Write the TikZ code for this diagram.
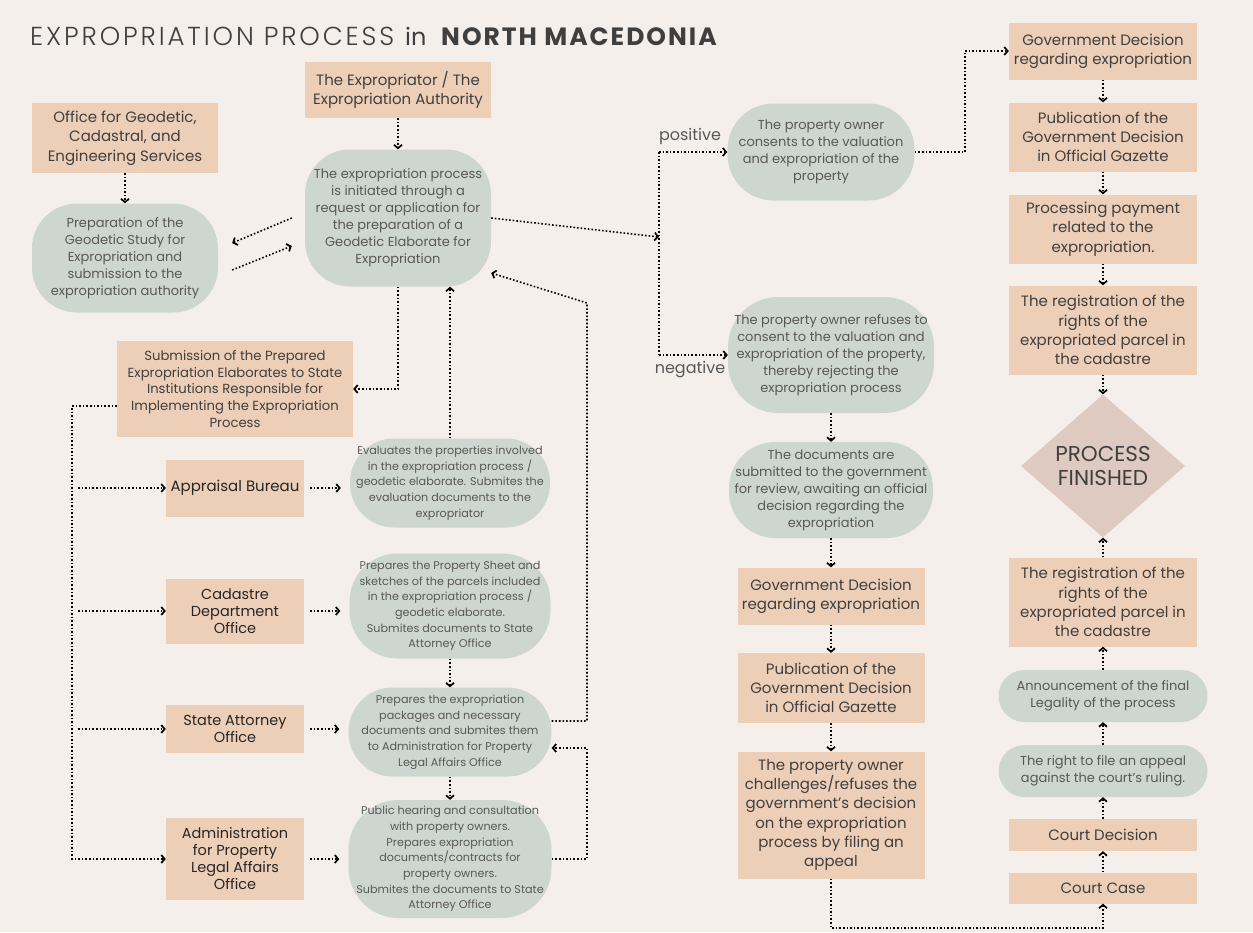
\documentclass[tikz,border=0pt]{standalone}
\usepackage{fontspec}
\setmainfont{Poppins}
\newfontfamily\lightfont{Poppins Light}[LetterSpace=11]
\newfontfamily\headfont{Poppins}[LetterSpace=8]
\usetikzlibrary{arrows.meta,shapes.geometric,calc}

\definecolor{bg}{HTML}{F4EFEA}
\definecolor{peach}{HTML}{EDCFB8}
\definecolor{sage}{HTML}{CDD7CF}
\definecolor{rose}{HTML}{DECAC1}
\definecolor{ink}{HTML}{3F3F3F}
\definecolor{softink}{HTML}{585858}
\definecolor{darkink}{HTML}{262626}

\tikzset{
  box/.style={rectangle, fill=peach, text=ink, align=center, inner sep=0pt,
    font=\fontsize{15}{19.3}\selectfont},
  office/.style={box, text=darkink, font=\fontsize{14.5}{17}\selectfont},
  pill/.style={rectangle, fill=sage, text=softink, align=center, inner sep=0pt,
    rounded corners=#1, font=\fontsize{13}{17}\selectfont},
  note/.style={pill=#1, font=\fontsize{11.2}{15.7}\selectfont},
  endbox/.style={diamond, fill=rose, text=ink, align=center, inner sep=0pt,
    font=\fontsize{21.5}{24}\selectfont},
  lbl/.style={text=softink, inner sep=0pt, font=\fontsize{16}{18}\selectfont},
  dots/.style={draw=black, line width=1.6pt, dash pattern=on 1.6pt off 2pt},
  flow/.style={dots, -{Straight Barb[length=3.4pt,width=8pt,line width=1.7pt]}}
}

\begin{document}
\begin{tikzpicture}[x=1pt,y=-1pt]
\useasboundingbox (0,0) rectangle (1253,932);
\fill[bg] (0,0) rectangle (1253,932);

% title
\node[anchor=base west, inner sep=0pt, text=ink, font=\lightfont\fontsize{26}{30}\selectfont] (t1) at (30,45) {EXPROPRIATION PROCESS};
\node[anchor=base west, inner sep=0pt, text=ink, font=\fontsize{24}{28}\selectfont] (t2) at (405,45) {in};
\node[anchor=base west, inner sep=0pt, text=ink, font=\headfont\bfseries\fontsize{25}{30}\selectfont] (t3) at (441,45) {NORTH MACEDONIA};

% left part: preparation of the elaborate
\node[box, minimum width=186pt, minimum height=56pt] (exp) at (398,90) {The Expropriator / The\\Expropriation Authority};
\node[box, minimum width=186pt, minimum height=70pt] (off) at (125,138) {Office for Geodetic,\\Cadastral, and\\Engineering Services};
\node[pill=45pt, minimum width=186pt, minimum height=109pt] (g1) at (125,258) {Preparation of the\\Geodetic Study for\\Expropriation and\\submission to the\\expropriation authority};
\node[pill=45pt, minimum width=186pt, minimum height=137pt] (g2) at (398,218) {The expropriation process\\is initiated through a\\request or application for\\the preparation of a\\Geodetic Elaborate for\\Expropriation};
\node[box, minimum width=236pt, minimum height=96pt, font=\fontsize{13.2}{16.7}\selectfont] (sub) at (235,389) {Submission of the Prepared\\Expropriation Elaborates to State\\Institutions Responsible for\\Implementing the Expropriation\\Process};

% state institutions
\node[office, minimum width=138pt, minimum height=57pt, font=\fontsize{15}{18}\selectfont] (app) at (235,488) {Appraisal Bureau};
\node[office, minimum width=138pt, minimum height=65pt] (cad) at (235,611) {Cadastre\\Department\\Office};
\node[office, minimum width=138pt, minimum height=48pt] (sta) at (235,729) {State Attorney\\Office};
\node[office, minimum width=138pt, minimum height=82pt] (adm) at (235,859) {Administration\\for Property\\Legal Affairs\\Office};

\node[note=44pt, minimum width=200pt, minimum height=89pt] (g3) at (450,483) {Evaluates the properties involved\\in the expropriation process /\\geodetic elaborate. Submites the\\evaluation documents to the\\expropriator};
\node[note=48pt, minimum width=201pt, minimum height=105pt] (g4) at (450,606) {Prepares the Property Sheet and\\sketches of the parcels included\\in the expropriation process /\\geodetic elaborate.\\Submites documents to State\\Attorney Office};
\node[note=44pt, minimum width=203pt, minimum height=89pt] (g5) at (450,732) {Prepares the expropriation\\packages and necessary\\documents and submites them\\to Administration for Property\\Legal Affairs Office};
\node[note=50pt, minimum width=203pt, minimum height=118pt] (g6) at (450,859) {Public hearing and consultation\\with property owners.\\Prepares expropriation\\documents/contracts for\\property owners.\\Submites the documents to State\\Attorney Office};

% owner's answer
\node[pill=46pt, minimum width=187pt, minimum height=97pt] (g7) at (821,152) {The property owner\\consents to the valuation\\and expropriation of the\\property};
\node[pill=50pt, minimum width=206pt, minimum height=116pt] (g8) at (831,355) {The property owner refuses to\\consent to the valuation and\\expropriation of the property,\\thereby rejecting the\\expropriation process};
\node[pill=46pt, minimum width=204pt, minimum height=96pt] (g9) at (831,490) {The documents are\\submitted to the government\\for review, awaiting an official\\decision regarding the\\expropriation};
\node[box, minimum width=187pt, minimum height=57pt] (m1) at (831,596) {Government Decision\\regarding expropriation};
\node[box, minimum width=187pt, minimum height=70pt] (m2) at (831,688) {Publication of the\\Government Decision\\in Official Gazette};
\node[box, minimum width=187pt, minimum height=127pt] (m3) at (831,815) {The property owner\\challenges/refuses the\\government's decision\\on the expropriation\\process by filing an\\appeal};
\node[lbl] (pos) at (690,136) {positive};
\node[lbl] (neg) at (690,370) {negative};

% final column
\node[box, minimum width=188pt, minimum height=57pt] (r1) at (1103,51) {Government Decision\\regarding expropriation};
\node[box, minimum width=188pt, minimum height=69pt] (r2) at (1103,137) {Publication of the\\Government Decision\\in Official Gazette};
\node[box, minimum width=188pt, minimum height=69pt] (r3) at (1103,229) {Processing payment\\related to the\\expropriation.};
\node[box, minimum width=188pt, minimum height=89pt] (r4) at (1103,330) {The registration of the\\rights of the\\expropriated parcel in\\the cadastre};
\node[endbox, minimum width=164pt, minimum height=143pt] (fin) at (1103,466) {PROCESS\\FINISHED};
\node[box, minimum width=188pt, minimum height=89pt] (r5) at (1103,602) {The registration of the\\rights of the\\expropriated parcel in\\the cadastre};
\node[pill=26pt, minimum width=209pt, minimum height=52pt] (r6) at (1103,696) {Announcement of the final\\Legality of the process};
\node[pill=26pt, minimum width=209pt, minimum height=52pt] (r7) at (1103,771) {The right to file an appeal\\against the court's ruling.};
\node[box, minimum width=188pt, minimum height=32pt] (r8) at (1103,835) {Court Decision};
\node[box, minimum width=188pt, minimum height=31pt] (r9) at (1103,888) {Court Case};

% helper points for the routed connectors
\coordinate (trunk) at (72,0);
\coordinate (rail) at (587,0);
\coordinate (bend) at (587,303);
\coordinate (fork) at (659,237);
\coordinate (br) at (659,0);
\coordinate (floor) at (0,928);

% connectors, left part
\draw[flow] (exp.south) -- (g2.north);
\draw[flow] (off.south) -- (g1.north);
\draw[flow] ($(g2.west)+(-13,0)$) -- ($(g1.east)+(14,-15)$);
\draw[flow] ($(g1.east)+(14,12)$) -- ($(g2.west)+(-13,28)$);
\draw[flow] (g2.south) |- (sub.east);
\draw[flow] (g3.north) -- (g3.north |- g2.south);
\draw[flow] ([yshift=-17pt]sub.west) -| (trunk |- adm.west) -- (adm.west);
\foreach \n in {app,cad,sta}
  \draw[flow] ([xshift=6pt]trunk |- \n.west) -- (\n.west);
\foreach \a/\b in {app/g3,cad/g4,sta/g5,adm/g6}
  \draw[flow, shorten <=6pt, shorten >=9pt] (\a.east) -- (\a.east -| \b.west);
\draw[flow] (g4.south) -- (g5.north);
\draw[flow] (g5.south) -- (g6.north);
\draw[flow] ([yshift=11pt]g5.east) -| (bend) -- ($(g2.east)+(0,55)$);
\draw[flow] (g6.east) -- (rail |- g6.east) |- ([yshift=-16pt]g5.east);

% connectors, owner's answer
\draw[flow] (g2.east) -- (fork);
\draw[dots] (br |- g7.west) -- (br |- g8.west);
\draw[flow] (br |- g7.west) -- (g7.west);
\draw[flow] (br |- g8.west) -- (g8.west);
\draw[flow] (g7.east) -- ++(50,0) |- (r1.west);
\draw[flow] (g8.south) -- (g9.north);
\draw[flow] (g9.south) -- (m1.north);
\draw[flow] (m1.south) -- (m2.north);
\draw[flow] (m2.south) -- (m3.north);
\draw[flow] (m3.south) -- (m3.south |- floor) -| (r9.south);

% connectors, final column
\draw[flow] (r1.south) -- (r2.north);
\draw[flow] (r2.south) -- (r3.north);
\draw[flow] (r3.south) -- (r4.north);
\draw[flow] (r4.south) -- (fin.north);
\draw[flow] (r9.north) -- (r8.south);
\draw[flow] (r8.north) -- (r7.south);
\draw[flow] (r7.north) -- (r6.south);
\draw[flow] (r6.north) -- (r5.south);
\draw[flow] (r5.north) -- (fin.south);
\end{tikzpicture}
\end{document}
